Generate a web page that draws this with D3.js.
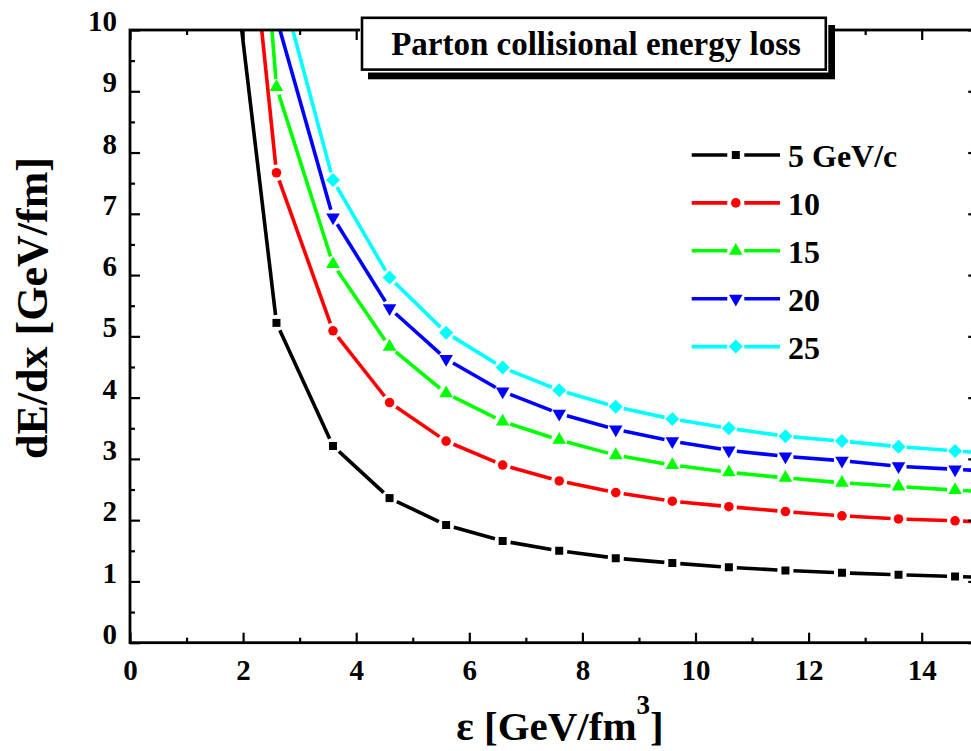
<!DOCTYPE html>
<html>
<head>
<meta charset="utf-8">
<script src="https://cdn.jsdelivr.net/npm/d3@7/dist/d3.min.js"></script>
<style>
html,body{margin:0;padding:0;background:#fff;overflow:hidden;}
svg{display:block;}
text{font-family:"Liberation Serif","Times New Roman",serif;font-weight:bold;fill:#000;}
</style>
</head>
<body>
<svg id="chart" width="971" height="751"></svg>
<script>
// ---- data ----
const epsilon = [1.59, 2.59, 3.59, 4.59, 5.59, 6.59, 7.59, 8.59, 9.59, 10.59, 11.59, 12.59, 13.59, 14.59, 15.59];
const loss5GeV  = [13.0, 5.22, 3.21, 2.36, 1.92, 1.66, 1.50, 1.38, 1.30, 1.23, 1.18, 1.14, 1.11, 1.08, 1.05];
const loss10GeV = [16.6, 7.67, 5.09, 3.92, 3.29, 2.90, 2.64, 2.45, 2.31, 2.22, 2.14, 2.07, 2.02, 1.99, 1.95];
const loss15GeV = [20.7, 9.07, 6.18, 4.83, 4.07, 3.61, 3.31, 3.06, 2.90, 2.78, 2.69, 2.61, 2.55, 2.49, 2.44];
const loss20GeV = [18.0, 10.2, 6.94, 5.46, 4.63, 4.10, 3.74, 3.48, 3.29, 3.14, 3.04, 2.97, 2.88, 2.83, 2.78];
const loss25GeV = [20.0, 10.99, 7.55, 5.96, 5.06, 4.49, 4.12, 3.85, 3.65, 3.50, 3.37, 3.29, 3.20, 3.13, 3.07];
const seriesLabels = ["5 GeV/c", "10", "15", "20", "25"];
const xTickLabels = [0, 2, 4, 6, 8, 10, 12, 14];
const yTickLabels = [0, 1, 2, 3, 4, 5, 6, 7, 8, 9, 10];
const titleText = "Parton collisional energy loss";

// ---- styles ----
const colors = ["#000000", "#ff0000", "#00ff00", "#0000ff", "#00ffff"];
const symbols = [
  {type: d3.symbolSquare, size: 64, rot: 0},
  {type: d3.symbolCircle, size: 72, rot: 0},
  {type: d3.symbolTriangle, size: 80, rot: 0},
  {type: d3.symbolTriangle, size: 80, rot: 180},
  {type: d3.symbolSquare, size: 98, rot: 45}
];
const allSeries = [loss5GeV, loss10GeV, loss15GeV, loss20GeV, loss25GeV];

const svg = d3.select("#chart");
const pLeft = 130, pTop = 30, pBottom = 642.7;
const x = d3.scaleLinear().domain([0, 15]).range([pLeft, pLeft + 15 * 56.55]);
const y = d3.scaleLinear().domain([0, 10]).range([pBottom, pTop]);
const pRight = x(15);

svg.append("defs").append("clipPath").attr("id", "plotclip")
  .append("rect").attr("x", pLeft).attr("y", pTop).attr("width", pRight - pLeft).attr("height", pBottom - pTop);

// ---- series ----
const gap = 8;
const plot = svg.append("g").attr("clip-path", "url(#plotclip)");
allSeries.forEach((vals, si) => {
  const pts = epsilon.map((e, i) => [x(e), y(vals[i])]);
  const segs = [];
  for (let i = 0; i < pts.length - 1; i++) {
    const [x0, y0] = pts[i], [x1, y1] = pts[i + 1];
    const L = Math.hypot(x1 - x0, y1 - y0);
    if (L <= 2 * gap) continue;
    const ux = (x1 - x0) / L, uy = (y1 - y0) / L;
    segs.push([[x0 + ux * gap, y0 + uy * gap], [x1 - ux * gap, y1 - uy * gap]]);
  }
  plot.append("g").selectAll("path").data(segs).join("path")
    .attr("d", d => d3.line()(d))
    .attr("stroke", colors[si]).attr("stroke-width", 3.6).attr("fill", "none")
    .attr("stroke-linecap", "butt");
  const sym = d3.symbol().type(symbols[si].type).size(symbols[si].size);
  plot.append("g").selectAll("path").data(epsilon.map((e, i) => [e, vals[i]])).join("path")
    .attr("d", sym)
    .attr("transform", d => `translate(${x(d[0])},${y(d[1])}) rotate(${symbols[si].rot})`)
    .attr("fill", colors[si]);
});

// ---- axes ----
function styleAxis(g) {
  g.select(".domain").remove();
  g.selectAll(".tick line").attr("stroke", "#000").attr("stroke-width", 2.2);
}
const xMajor = d3.range(0, 16, 2), xMinor = d3.range(1, 16, 2);
const yMajor = d3.range(0, 11, 1), yMinor = d3.range(0.5, 10, 1);

svg.append("g").attr("transform", `translate(0,${pBottom})`)
  .call(d3.axisBottom(x).tickValues(xTickLabels).tickSize(-10).tickPadding(17).tickFormat(d3.format("d")))
  .call(styleAxis)
  .call(g => g.selectAll("text").attr("font-size", 29).attr("font-family", "Liberation Serif").attr("font-weight", "bold").attr("fill", "#000"));
svg.append("g").attr("transform", `translate(0,${pBottom})`)
  .call(d3.axisBottom(x).tickValues(xMinor).tickSize(-5).tickFormat("")).call(styleAxis);
svg.append("g").attr("transform", `translate(0,${pTop})`)
  .call(d3.axisTop(x).tickValues(xMajor).tickSize(-10).tickFormat("")).call(styleAxis);
svg.append("g").attr("transform", `translate(0,${pTop})`)
  .call(d3.axisTop(x).tickValues(xMinor).tickSize(-5).tickFormat("")).call(styleAxis);

svg.append("g").attr("transform", `translate(${pLeft},0)`)
  .call(d3.axisLeft(y).tickValues(yTickLabels).tickSize(-10).tickPadding(13).tickFormat(d3.format("d")))
  .call(styleAxis)
  .call(g => g.selectAll("text").attr("font-size", 29).attr("dy", "0.02em").attr("font-family", "Liberation Serif").attr("font-weight", "bold").attr("fill", "#000"));
svg.append("g").attr("transform", `translate(${pLeft},0)`)
  .call(d3.axisLeft(y).tickValues(yMinor).tickSize(-5).tickFormat("")).call(styleAxis);
svg.append("g").attr("transform", `translate(${pRight},0)`)
  .call(d3.axisRight(y).tickValues(yMajor).tickSize(-10).tickFormat("")).call(styleAxis);
svg.append("g").attr("transform", `translate(${pRight},0)`)
  .call(d3.axisRight(y).tickValues(yMinor).tickSize(-5).tickFormat("")).call(styleAxis);

// frame
svg.append("rect").attr("x", pLeft).attr("y", pTop).attr("width", pRight - pLeft).attr("height", pBottom - pTop)
  .attr("fill", "none").attr("stroke", "#000").attr("stroke-width", 2.8);

// ---- axis titles ----
const xt = svg.append("text").attr("x", 560).attr("y", 740).attr("text-anchor", "middle").attr("font-size", 41);
xt.append("tspan").text("ε [GeV/fm");
xt.append("tspan").attr("dy", -26).attr("font-size", 27).text("3");
xt.append("tspan").attr("dy", 26).text("]");

svg.append("text").attr("transform", "translate(47,308) rotate(-90)")
  .attr("text-anchor", "middle").attr("font-size", 44).text("dE/dx [GeV/fm]");

// ---- title box ----
svg.append("rect").attr("x", 368).attr("y", 25).attr("width", 467).attr("height", 54.3).attr("fill", "#000");
svg.append("rect").attr("x", 360).attr("y", 15.5).attr("width", 468.3).attr("height", 57).attr("fill", "#fff");
svg.append("rect").attr("x", 362).attr("y", 17.8).attr("width", 463.8).attr("height", 51.8)
  .attr("fill", "#fff").attr("stroke", "#000").attr("stroke-width", 2.6);
svg.append("text").attr("x", 596).attr("y", 55).attr("text-anchor", "middle").attr("font-size", 33).text(titleText);

// ---- legend ----
const legY0 = 155, legStep = 47.9, legX0 = 691.7, legX1 = 780, legMid = 735.8;
const leg = svg.append("g");
seriesLabels.forEach((lab, i) => {
  const yy = legY0 + i * legStep;
  leg.append("line").attr("x1", legX0).attr("x2", legMid - 8.5).attr("y1", yy).attr("y2", yy)
    .attr("stroke", colors[i]).attr("stroke-width", 3.6);
  leg.append("line").attr("x1", legMid + 8.5).attr("x2", legX1).attr("y1", yy).attr("y2", yy)
    .attr("stroke", colors[i]).attr("stroke-width", 3.6);
  leg.append("path").attr("d", d3.symbol().type(symbols[i].type).size(symbols[i].size))
    .attr("transform", `translate(${legMid},${yy}) rotate(${symbols[i].rot})`).attr("fill", colors[i]);
  leg.append("text").attr("x", 788).attr("y", yy + 12).attr("font-size", 32).text(lab);
});
</script>
</body>
</html>
